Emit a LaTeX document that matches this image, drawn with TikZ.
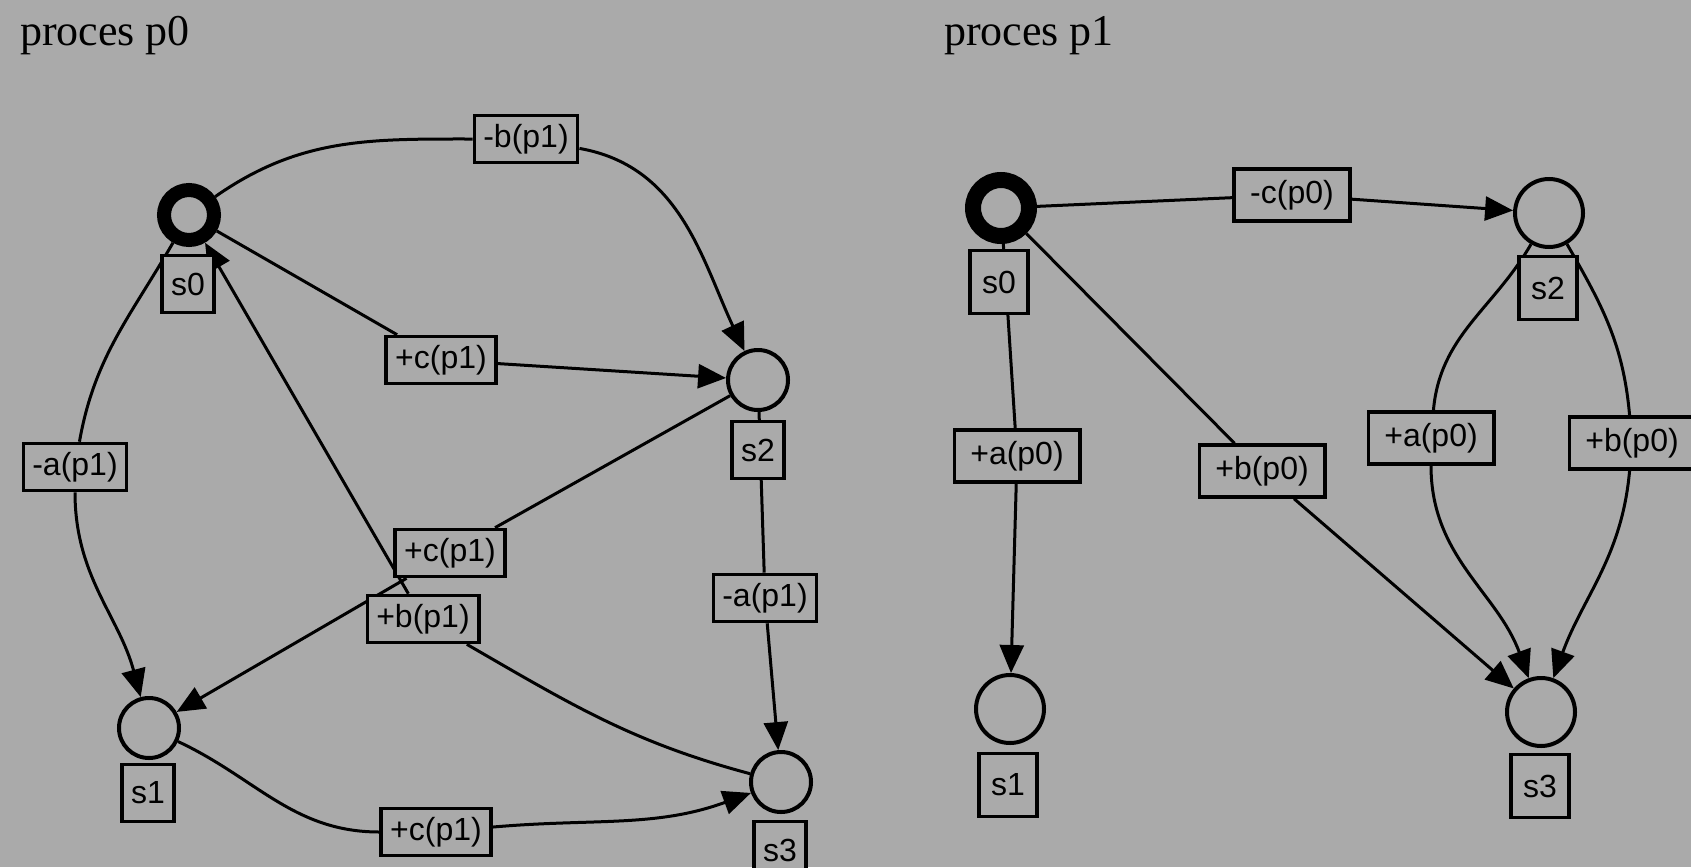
\documentclass[tikz,border=0pt]{standalone}
\usepackage{fontspec}
\setmainfont{Liberation Serif}
\setsansfont{Liberation Sans}
\usetikzlibrary{arrows.meta}
\pgfdeclarelayer{paper}
\pgfdeclarelayer{wires}
\pgfsetlayers{paper,wires,main}
\definecolor{paper}{RGB}{170,170,170}

\begin{document}
\begin{tikzpicture}[x=0.5pt,y=0.5pt,
  stateL/.style={circle,draw=black,line width=2pt,inner sep=0pt,minimum size=30pt},
  stateR/.style={circle,draw=black,line width=2pt,inner sep=0pt,minimum size=34pt},
  startL/.style={circle,draw=black,line width=7pt,inner sep=0pt,minimum size=25pt},
  startR/.style={circle,draw=black,line width=8pt,inner sep=0pt,minimum size=28pt},
  boxfont/.style={font=\sffamily\fontsize{16}{16}\selectfont},
  nameL/.style={draw=black,line width=1.8pt,fill=paper,boxfont,inner sep=0pt,
    minimum width=26pt,minimum height=28.5pt},
  nameR/.style={draw=black,line width=1.8pt,fill=paper,boxfont,inner sep=0pt,
    minimum width=29pt,minimum height=31.5pt},
  tagL/.style={draw=black,line width=1.8pt,fill=paper,boxfont,inner xsep=4.5pt,
    inner ysep=4pt,text height=12pt,text depth=3.5pt},
  tagR/.style={draw=black,line width=1.8pt,fill=paper,boxfont,inner xsep=8pt,
    inner ysep=5.2pt,text height=12pt,text depth=3.5pt},
  wire/.style={draw=black,line width=1.5pt},
  arr/.style={-{Triangle[length=14pt,width=12pt]}},
  title/.style={anchor=base west,font=\fontsize{22}{22}\selectfont}
]
\useasboundingbox (0,0) rectangle (1691,-867);
\begin{pgfonlayer}{paper}
  \fill[paper] (0,0) rectangle (1691,-867);
\end{pgfonlayer}

% ---------- process p0 ----------
\node[title] (t0) at (13,-45) {proces p0};

\node[startL] (a0) at (189,-215) {};
\node[stateL] (a2) at (758,-380) {};
\node[stateL] (a1) at (149,-728) {};
\node[stateL] (a3) at (781,-782) {};

\node[nameL] (a0n) at (188,-284) {s0};
\node[nameL] (a2n) at (758,-450) {s2};
\node[nameL] (a1n) at (148,-793) {s1};
\node[nameL] (a3n) at (780,-850) {s3};

\node[tagL] (e1) at (526,-139) {-b(p1)};
\node[tagL] (e2) at (441,-360) {+c(p1)};
\node[tagL] (e3) at (75,-467) {-a(p1)};
\node[tagL] (e4) at (450,-553) {+c(p1)};
\node[tagL] (e5) at (423,-619) {+b(p1)};
\node[tagL] (e6) at (765,-598) {-a(p1)};
\node[tagL] (e7) at (436,-832) {+c(p1)};

\begin{pgfonlayer}{wires}
  \draw[wire] (a0) to[out=35,in=180] (e1);
  \draw[wire,arr] (e1) to[out=-10,in=115] (a2);
  \draw[wire] (a0) -- (e2);
  \draw[wire,arr] (e2) -- (a2);
  \draw[wire] (a0) to[out=240,in=80] (e3);
  \draw[wire,arr] (e3) to[out=-90,in=105] (a1);
  \draw[wire] (a2) -- (e4);
  \draw[wire,arr] (e4) -- (a1);
  \draw[wire] (a3) to[out=165,in=-30] (e5);
  \draw[wire,arr] (e5) -- (a0);
  \draw[wire] (a2) -- (e6);
  \draw[wire,arr] (e6) -- (a3);
  \draw[wire] (a1) to[out=-25,in=180] (e7);
  \draw[wire,arr] (e7) to[out=5,in=200] (a3);
\end{pgfonlayer}

% ---------- process p1 ----------
\node[title] (t1) at (937,-45) {proces p1};

\node[startR] (b0) at (1001,-208) {};
\node[stateR] (b2) at (1549,-213) {};
\node[stateR] (b1) at (1010,-709) {};
\node[stateR] (b3) at (1541,-712) {};

\node[nameR] (b0n) at (999,-282) {s0};
\node[nameR] (b2n) at (1548,-288) {s2};
\node[nameR] (b1n) at (1008,-785) {s1};
\node[nameR] (b3n) at (1540,-786) {s3};

\node[tagR] (f1) at (1292,-195) {-c(p0)};
\node[tagR] (f2) at (1017,-456) {+a(p0)};
\node[tagR] (f3) at (1262,-471) {+b(p0)};
\node[tagR] (f4) at (1431,-438) {+a(p0)};
\node[tagR] (f5) at (1632,-443) {+b(p0)};

\begin{pgfonlayer}{wires}
  \draw[wire] (b0) -- (f1);
  \draw[wire,arr] (f1) -- (b2);
  \draw[wire] (b0) -- (f2);
  \draw[wire,arr] (f2) -- (b1);
  \draw[wire] (b0) -- (f3);
  \draw[wire,arr] (f3) -- (b3);
  \draw[wire] (b2) to[out=240,in=85] (f4);
  \draw[wire,arr] (f4) to[out=-90,in=110] (b3);
  \draw[wire] (b2) to[out=-60,in=95] (f5);
  \draw[wire,arr] (f5) to[out=-95,in=70] (b3);
\end{pgfonlayer}
\end{tikzpicture}
\end{document}
